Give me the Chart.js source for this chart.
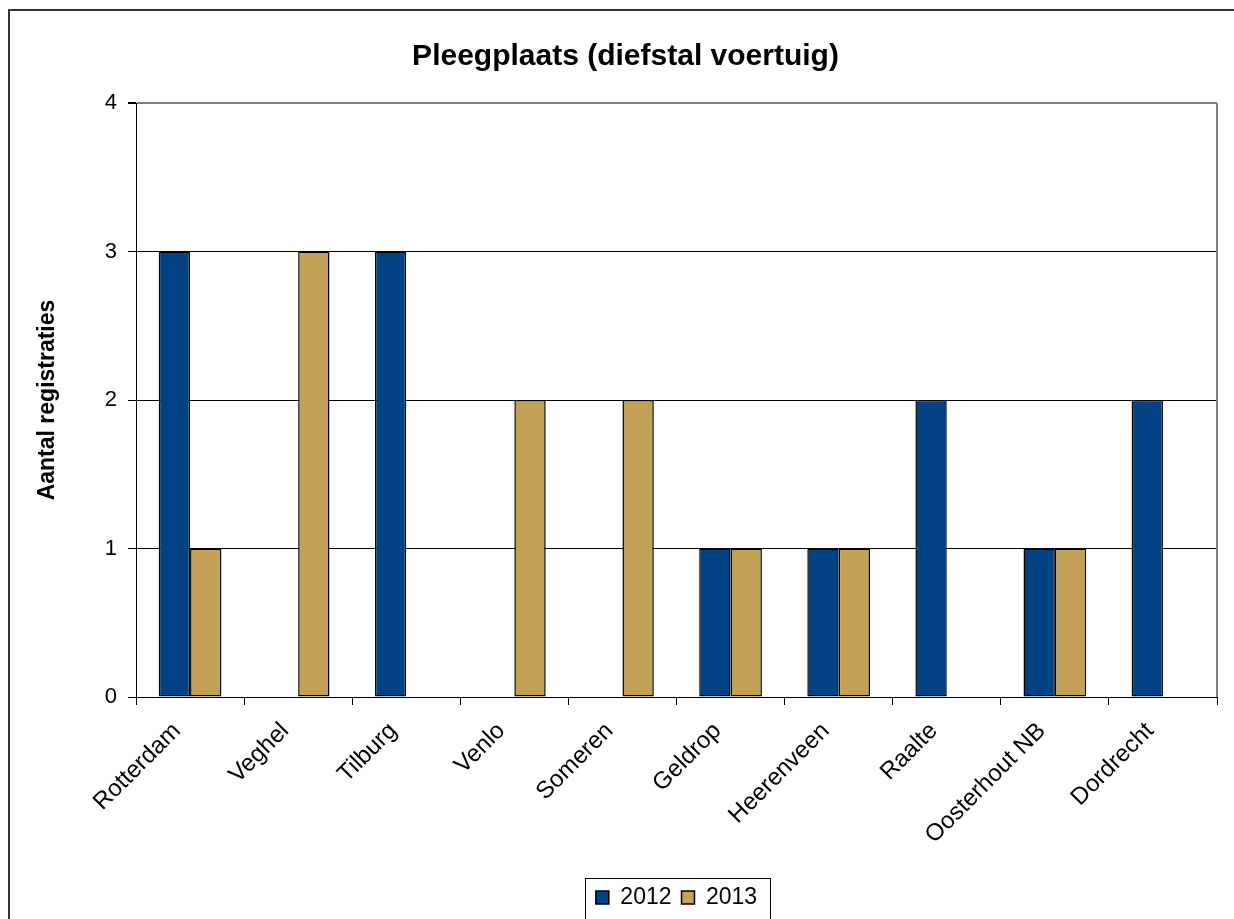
<!DOCTYPE html>
<html>
<head>
<meta charset="utf-8">
<script src="https://cdn.jsdelivr.net/npm/chart.js@4"></script>
<style>
  html, body { margin: 0; padding: 0; background: #fff; }
  #wrap { width: 1234px; height: 919px; }
</style>
</head>
<body>
<div id="wrap"><canvas id="pleegChart" width="1234" height="919"></canvas></div>
<script>
const plaatsen = ['Rotterdam', 'Veghel', 'Tilburg', 'Venlo', 'Someren', 'Geldrop', 'Heerenveen', 'Raalte', 'Oosterhout NB', 'Dordrecht'];
const jaar2012 = [3, 0, 3, 0, 0, 1, 1, 2, 1, 2];
const jaar2013 = [1, 3, 0, 2, 2, 1, 1, 0, 1, 0];
const yTicks = [0, 1, 2, 3, 4];

const lettertype = 'Arial, "Liberation Sans", sans-serif';

// kader rond de hele grafiek, rand rechts van plotgebied, kader om legenda
const kaderPlugin = {
    id: 'kader',
    afterLayout(chart) {
        // titel iets naar rechts, zoals in het origineel
        if (chart.titleBlock) {
            chart.titleBlock.left += 17;
            chart.titleBlock.right += 17;
        }
    },
    beforeDraw(chart) {
        const ctx = chart.ctx;
        ctx.save();
        ctx.fillStyle = '#fff';
        ctx.fillRect(0, 0, chart.width, chart.height);
        ctx.strokeStyle = '#333';
        ctx.lineWidth = 2;
        ctx.strokeRect(9, 10, 1240, 930);
        ctx.restore();
    },
    afterDraw(chart) {
        const ctx = chart.ctx;
        const a = chart.chartArea;
        ctx.save();
        ctx.strokeStyle = '#808080';
        ctx.lineWidth = 2;
        ctx.beginPath();
        ctx.moveTo(a.right, a.top);
        ctx.lineTo(a.right, a.bottom);
        ctx.stroke();

        const lg = chart.legend;
        if (lg && lg.legendHitBoxes.length) {
            const boxes = lg.legendHitBoxes;
            const last = boxes[boxes.length - 1];
            const l = boxes[0].left - 11;
            const r = last.left + last.width + 13;
            ctx.strokeStyle = '#000';
            ctx.lineWidth = 1;
            ctx.strokeRect(Math.round(l) + 0.5, 878.5, Math.round(r - l), 60);
        }
        ctx.restore();
    }
};

const ctx = document.getElementById('pleegChart').getContext('2d');
new Chart(ctx, {
    type: 'bar',
    data: {
        labels: plaatsen,
        datasets: [
            {
                label: '2012',
                data: jaar2012,
                backgroundColor: '#004283',
                borderColor: '#000',
                borderWidth: 1.5,
                borderSkipped: false,
                categoryPercentage: 0.58,
                barPercentage: 1
            },
            {
                label: '2013',
                data: jaar2013,
                backgroundColor: '#C2A157',
                borderColor: '#000',
                borderWidth: 1.5,
                borderSkipped: false,
                categoryPercentage: 0.58,
                barPercentage: 1
            }
        ]
    },
    options: {
        responsive: false,
        animation: false,
        layout: { padding: { left: 0, right: 17, top: 0, bottom: 0 } },
        plugins: {
            title: {
                display: true,
                text: 'Pleegplaats (diefstal voertuig)',
                color: '#000',
                font: { family: lettertype, size: 30, weight: 'bold' },
                padding: { top: 39, bottom: 28 }
            },
            legend: {
                position: 'bottom',
                fullSize: false,
                labels: {
                    color: '#000',
                    boxWidth: 13,
                    boxHeight: 13,
                    padding: 10,
                    font: { family: lettertype, size: 23 }
                }
            },
            tooltip: { enabled: false }
        },
        scales: {
            x: {
                grid: {
                    offset: true,
                    drawOnChartArea: false,
                    tickLength: 8,
                    tickColor: '#000'
                },
                border: { color: '#000', width: 1 },
                ticks: {
                    color: '#000',
                    minRotation: 45,
                    maxRotation: 45,
                    padding: 12,
                    labelOffset: -13,
                    font: { family: lettertype, size: 24 }
                },
                afterFit(scale) { scale.height = 179; }
            },
            y: {
                min: 0,
                max: 4,
                afterBuildTicks(scale) { scale.ticks = yTicks.map(v => ({ value: v })); },
                grid: {
                    color: c => (c.tick && c.tick.value === 4) ? '#808080' : '#000',
                    lineWidth: c => (c.tick && c.tick.value === 4) ? 2 : 1,
                    tickLength: 8,
                    tickColor: '#000'
                },
                border: { color: '#000', width: 1 },
                ticks: {
                    color: '#000',
                    padding: 11,
                    font: { family: lettertype, size: 22 }
                },
                title: {
                    display: true,
                    text: 'Aantal registraties',
                    color: '#000',
                    font: { family: lettertype, size: 23, weight: 'bold' },
                    padding: { top: 34, bottom: 0 }
                },
                afterFit(scale) { scale.width = 136; }
            }
        }
    },
    plugins: [kaderPlugin]
});
</script>
</body>
</html>
